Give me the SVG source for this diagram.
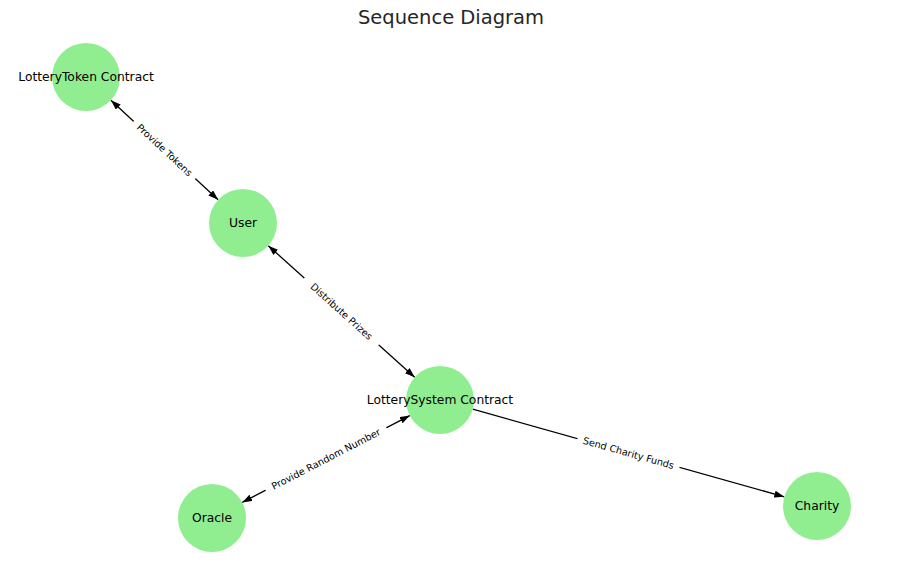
<svg xmlns="http://www.w3.org/2000/svg" width="902" height="573" viewBox="0 0 902 573">
<style>
.node circle{fill:#90ee90;}
.node text{font-family:"DejaVu Sans",sans-serif;font-size:12.3px;fill:#000;text-anchor:middle;}
.edge line{stroke:#000;stroke-width:1.3;}
.elabel rect{fill:#fff;}
.elabel text{font-family:"DejaVu Sans",sans-serif;font-size:9.7px;fill:#000;text-anchor:middle;}
.title{font-family:"DejaVu Sans",sans-serif;font-size:19.5px;fill:#262626;text-anchor:middle;}
</style>
<defs>
<marker id="arr" viewBox="0 0 10 7" refX="10" refY="3.5" markerWidth="10" markerHeight="7" markerUnits="userSpaceOnUse" orient="auto-start-reverse">
<path d="M0,0 L10,3.5 L0,7 z" fill="#000"/>
</marker>
</defs>
<rect width="902" height="573" fill="#fff"/>
<text class="title" x="451" y="24">Sequence Diagram</text>
<g id="connectors">
<g class="edge" id="e-token-user"><line x1="110.9" y1="100.2" x2="218.1" y2="199.8" marker-start="url(#arr)" marker-end="url(#arr)"/></g>
<g class="edge" id="e-user-system"><line x1="268.3" y1="245.7" x2="414.7" y2="377.3" marker-start="url(#arr)" marker-end="url(#arr)"/></g>
<g class="edge" id="e-oracle-system"><line x1="242.2" y1="502.4" x2="409.8" y2="415.6" marker-start="url(#arr)" marker-end="url(#arr)"/></g>
<g class="edge" id="e-system-charity"><line x1="472.7" y1="409.2" x2="784.3" y2="496.8" marker-end="url(#arr)"/></g>
<g class="elabel" transform="translate(164.5,150) rotate(42.9)"><rect x="-42" y="-7" width="84" height="14"/><text y="3.4">Provide Tokens</text></g>
<g class="elabel" transform="translate(341.5,311.5) rotate(41.9)"><rect x="-50" y="-7" width="100" height="14"/><text y="3.4">Distribute Prizes</text></g>
<g class="elabel" transform="translate(326,459) rotate(-27.4)"><rect x="-68" y="-7" width="136" height="14"/><text y="3.4">Provide Random Number</text></g>
<g class="elabel" transform="translate(628.5,453) rotate(15.7)"><rect x="-53" y="-7" width="106" height="14"/><text y="3.4">Send Charity Funds</text></g>
</g>
<g class="node" id="n-token"><circle cx="86" cy="77" r="34"/><text x="86" y="81.4">LotteryToken Contract</text></g>
<g class="node" id="n-user"><circle cx="243" cy="223" r="34"/><text x="243" y="227.4">User</text></g>
<g class="node" id="n-system"><circle cx="440" cy="400" r="34"/><text x="440" y="404.4">LotterySystem Contract</text></g>
<g class="node" id="n-oracle"><circle cx="212" cy="518" r="34"/><text x="212" y="522.4">Oracle</text></g>
<g class="node" id="n-charity"><circle cx="817" cy="506" r="34"/><text x="817" y="510.4">Charity</text></g>
</svg>
